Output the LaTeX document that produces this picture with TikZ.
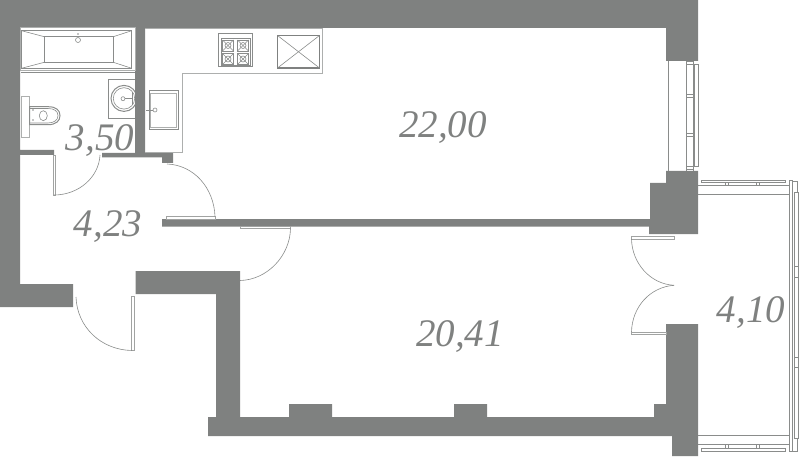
\documentclass[tikz,border=0pt]{standalone}
\usepackage{xcolor}
\usepackage{fontspec}
\setmainfont{Liberation Serif}
\definecolor{wallgray}{HTML}{7F8180}
\definecolor{linegray}{HTML}{8A8C8B}
\tikzset{
  wall/.style={fill=wallgray,draw=none},
  thin line/.style={draw=linegray,line width=0.6pt},
  pale line/.style={draw=linegray!70,line width=0.7pt},
  frame line/.style={draw=linegray,line width=1pt},
  leaf/.style={draw=linegray!80,line width=0.6pt,fill=white},
  area/.style={text=wallgray,font=\fontsize{39}{39}\selectfont\itshape,inner sep=0pt}
}
\begin{document}
\begin{tikzpicture}[x=1pt,y=-1pt]
\useasboundingbox (0,0) rectangle (800,457);
% walls
\fill[wall](0,0)--(698,0)--(698,61)--(666,61)--(666,28)--(145,28)--(145,153)--(173,153)--(173,163)--(162,163)--(162,157.3)--(102,157.3)--(102,153)--(135,153)--(135,28)--(20,28)--(20,150)--(54,150)--(54,155)--(20,155)--(20,284)--(73,284)--(73,307)--(0,307)--cycle;
\fill[wall](135.5,271)--(240,271)--(240,417)--(289,417)--(289,404)--(332,404)--(332,417)--(454,417)--(454,404)--(487,404)--(487,417)--(654,417)--(654,404)--(666,404)--(666,324)--(698,324)--(698,456)--(672,456)--(672,436)--(208,436)--(208,417)--(216,417)--(216,294)--(135.5,294)--cycle;
\fill[wall](162,219)--(650,219)--(650,183)--(666,183)--(666,171)--(698,171)--(698,234)--(649,234)--(649,226.5)--(162,226.5)--cycle;
% bath
\draw[frame line](20.5,73)--(135,73);
\draw[pale line](20.5,27.7)rectangle(135,70.5);
\draw[thin line](21.5,30.7)rectangle(131.7,68.3);
\draw[thin line](44.3,36.7)rectangle(113.3,62.3);
\foreach \a/\b in {44.3/21.5,113.3/131.7}{
\draw[thin line](\a,36.7)--(\b,30.7);\draw[thin line](\a,62.3)--(\b,68.3);}
\draw[thin line](78,40)circle[radius=2.5];\fill[linegray](78,34)circle[radius=0.9];
% toilet
\draw[pale line](21.5,96.5)rectangle(29.5,137);
\draw[frame line](29.5,106.7)--(48,106.7)..controls(56,106.7)and(60,110)..(60,115.7)..controls(60,121)and(56,124.7)..(48,124.7)--(29.5,124.7)--cycle;
\draw[thin line](30,108.5)--(48,108.5)..controls(54,108.5)and(58,111)..(58,115.7)..controls(58,120)and(54,123)..(48,123)--(30,123);
\draw[thin line](43.3,115.7)ellipse[x radius=4,y radius=5];
\fill[linegray](33,110)circle[radius=0.8];\fill[linegray](33,120)circle[radius=0.8];
% basin
\draw[thin line](135,79)--(108.3,79)--(108.3,118.3)--(135,118.3);
\begin{scope}
\clip(108,79)rectangle(135,118.3);
\draw[frame line](124,98.4)circle[radius=13];
\draw[thin line](124,98.4)circle[radius=10.7];
\end{scope}
\draw[thin line](132.5,92)--(132.5,105);
\draw[thin line](123,98.7)circle[radius=2];\draw[thin line](125,98.7)--(132,98.7);
% kitchen
\draw[pale line](145,28)--(322.5,28)--(322.5,73)--(182.5,73)--(182.5,152.5)--(145,152.5);
\draw[thin line](218.3,33.3)rectangle(252.7,66.7);
\draw[thin line](221,38)rectangle(250,65);
\foreach \x in {228,243}\foreach \y in {45.5,59}{
\draw[thin line](\x-5.5,\y-5.5)rectangle(\x+5.5,\y+5.5);
\draw[thin line](\x-5.5,\y-5.5)--(\x+5.5,\y+5.5);\draw[thin line](\x-5.5,\y+5.5)--(\x+5.5,\y-5.5);
\draw[thin line](\x,\y)circle[radius=3];}
\draw[draw=wallgray,line width=1.3pt](277.5,35.5)rectangle(319.5,68);
\draw[thin line](277.5,35.5)--(319.5,68);\draw[thin line](277.5,68)--(319.5,35.5);
\draw[frame line](149,90.5)rectangle(178.7,129.5);
\draw[pale line](150.5,93)rectangle(176,127);
\draw[thin line](146,110)--(153,110);\draw[thin line,fill=white](155,110)circle[radius=2];
% doors
\draw[leaf](53.5,155)rectangle(55.5,195);
\draw[thin line](54,195)..controls(79,195)and(99,177)..(100,155);
\draw[leaf](166,216.5)rectangle(215,219);
\draw[thin line](167,164)..controls(194,165)and(214,188)..(215,216.5);
\draw[leaf](240,226.5)rectangle(290.5,228.5);
\draw[thin line](290.5,228.5)..controls(290,256)and(267,280)..(240,280.5);
\draw[leaf](131.5,296.5)rectangle(134.5,350.5);
\draw[thin line](76,297)..controls(77,327)and(101,350)..(132,350.5);
\draw[leaf](631.5,236.5)rectangle(674.5,239);
\draw[thin line](631.5,239)..controls(632,263)and(650,284)..(674,285.3);
\draw[leaf](631.5,332)rectangle(666,334.3);
\draw[thin line](631.5,332)..controls(632,307)and(650,287)..(674,285.3);
% kitchen window
\draw[frame line](668,61)--(668,171);
\draw[frame line](686,61)--(686,171);
\draw[frame line](693,61)--(693,171);
\foreach \y in {63.5,96.5,135,168.5}{\draw[frame line](686,\y-1.5)--(693,\y-1.5);\draw[frame line](686,\y+1.5)--(693,\y+1.5);}
\draw[frame line](694,64.5)--(698.5,64.5)--(698.5,167)--(694,167)--cycle;
% balcony glazing
\draw[frame line](698,195)--(789,195);
\draw[frame line](698,435)--(789,435);
\draw[frame line](698,185.7)--(789,185.7);
\draw[frame line](698,444)--(789,444);
\draw[thin line](701,180)rectangle(785,182.5);
\draw[thin line](701,448.5)rectangle(785,451);
\foreach \x in {727,758}{
\draw[frame line](\x-1.2,182.5)--(\x-1.2,185.7);\draw[frame line](\x+1.2,182.5)--(\x+1.2,185.7);
\draw[frame line](\x-1.2,444)--(\x-1.2,448.5);\draw[frame line](\x+1.2,444)--(\x+1.2,448.5);}
\draw[frame line](789,181)rectangle(792.5,451);
\draw[thin line](792.5,181)--(797.5,181)--(797.5,193);
\draw[thin line](792.5,451)--(797.5,451)--(797.5,438);
\draw[frame line](794.5,193)rectangle(798,438);
\foreach \y in {266.5,277.5,357,367}{\draw[thin line](794.5,\y)--(798,\y);}
% areas
\node[area](kitchenarea) at(443,128){22,00};
\node[area](bedarea) at(460,337){20,41};
\node[area](bathrarea) at(100,141){3,50};
\node[area](hallarea) at(108,227){4,23};
\node[area](balconyarea) at(751,313){4,10};
\end{tikzpicture}
\end{document}
